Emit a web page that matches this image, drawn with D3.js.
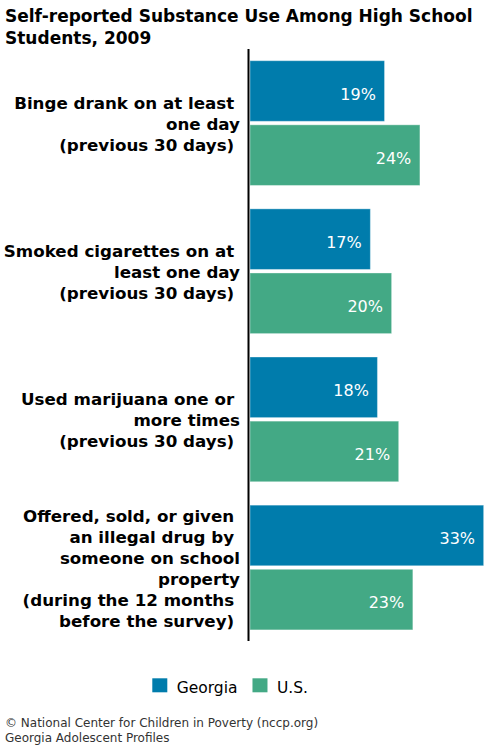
<!DOCTYPE html>
<html>
<head>
<meta charset="utf-8">
<script src="https://cdn.jsdelivr.net/npm/d3@7"></script>
<style>
  body { margin: 0; background: #fff; }
  text { white-space: pre; }
</style>
</head>
<body>
<div id="chart"></div>
<script>
const titleLines = ["Self-reported Substance Use Among High School", "Students, 2009"]
const categories = ["binge", "smoked", "marijuana", "offered"]
const categoryLabels = [
  ["Binge drank on at least ", "one day", "(previous 30 days) "],
  ["Smoked cigarettes on at ", "least one day", "(previous 30 days) "],
  ["Used marijuana one or ", "more times", "(previous 30 days) "],
  ["Offered, sold, or given ", "an illegal drug by ", "someone on school", "property", "(during the 12 months ", "before the survey) "]
]
const series = ["Georgia", "U.S."]
const georgiaValues = [19, 17, 18, 33]
const usValues = [24, 20, 21, 23]
const footerLines = ["\u00a9 National Center for Children in Poverty (nccp.org)", "Georgia Adolescent Profiles"]

const width = 498
const height = 748
const font = "'DejaVu Sans', Verdana, sans-serif"
const colors = {"Georgia": "#007cac", "U.S.": "#43a985"}

const svg = d3.select("#chart").append("svg")
  .attr("width", width)
  .attr("height", height)

const rows = categories.map(function(c, i) {
  return {key: c, lines: categoryLabels[i], values: [
    {series: "Georgia", value: georgiaValues[i]},
    {series: "U.S.", value: usValues[i]}
  ]}
})

const xScale = d3.scaleLinear()
  .domain([0, 35])
  .range([250, 497.8])

const yScale = d3.scaleBand()
  .domain(categories)
  .range([49, 641.6])
  .paddingInner(0.158)
  .paddingOuter(0.079)

const ySub = d3.scaleBand()
  .domain(series)
  .range([0, yScale.bandwidth()])
  .paddingInner(0.055)

// title
svg.append("g")
  .selectAll("text")
  .data(titleLines)
  .enter()
  .append("text")
    .attr("x", 5)
    .attr("y", function(d, i) { return 21.5 + i * 22 })
    .attr("font-family", font)
    .attr("font-weight", "bold")
    .attr("font-size", 17)
    .attr("fill", "#000")
    .text(function(d) { return d })

// bars
const groups = svg.append("g")
  .selectAll(".group")
  .data(rows)
  .enter()
  .append("g")
    .attr("class", "group")
    .attr("transform", function(d) { return "translate(0," + yScale(d.key) + ")" })

groups.selectAll("rect")
  .data(function(d) { return d.values })
  .enter()
  .append("rect")
    .attr("x", xScale(0))
    .attr("y", function(d) { return ySub(d.series) })
    .attr("width", function(d) { return xScale(d.value) - xScale(0) })
    .attr("height", ySub.bandwidth())
    .attr("fill", function(d) { return colors[d.series] })
    .attr("stroke", "#fff")
    .attr("stroke-opacity", 0.35)
    .attr("stroke-width", 1)

groups.selectAll(".val")
  .data(function(d) { return d.values })
  .enter()
  .append("text")
    .attr("class", "val")
    .attr("x", function(d) { return xScale(d.value) - 8.6 })
    .attr("y", function(d) { return ySub(d.series) + ySub.bandwidth() / 2 + 8.5 })
    .attr("text-anchor", "end")
    .attr("font-family", font)
    .attr("font-size", 16)
    .attr("fill", "#fff")
    .text(function(d) { return d.value + "%" })

// category labels
const lineH = 21
groups.each(function(d) {
  const n = d.lines.length
  const mid = yScale.bandwidth() / 2
  d3.select(this).selectAll(".lab")
    .data(d.lines)
    .enter()
    .append("text")
      .attr("class", "lab")
      .attr("x", 240)
      .attr("y", function(l, i) { return mid - (n - 1) * lineH / 2 + 6.5 + i * lineH })
      .attr("text-anchor", "end")
      .attr("font-family", font)
      .attr("font-weight", "bold")
      .attr("font-size", 16.7)
      .attr("fill", "#000")
      .text(function(l) { return l })
})

// axis line
svg.append("line")
  .attr("x1", 248.5)
  .attr("x2", 248.5)
  .attr("y1", 49)
  .attr("y2", 641)
  .attr("stroke", "#000")
  .attr("stroke-width", 2)

// legend
const legend = svg.append("g").attr("transform", "translate(152.3,678.3)")
let lx = 0
series.forEach(function(s) {
  legend.append("rect")
    .attr("x", lx)
    .attr("y", 0)
    .attr("width", 15)
    .attr("height", 14)
    .attr("fill", colors[s])
  const t = legend.append("text")
    .attr("x", lx + 24.4)
    .attr("y", 14.5)
    .attr("font-family", font)
    .attr("font-size", 15.5)
    .attr("fill", "#000")
    .text(s)
  lx += 24.4 + t.node().getComputedTextLength() + 15
})

// source
svg.append("g")
  .selectAll("text")
  .data(footerLines)
  .enter()
  .append("text")
    .attr("x", 5)
    .attr("y", function(d, i) { return 727 + i * 15 })
    .attr("font-family", font)
    .attr("font-size", 12)
    .attr("fill", "#333")
    .text(function(d) { return d })
</script>
</body>
</html>
